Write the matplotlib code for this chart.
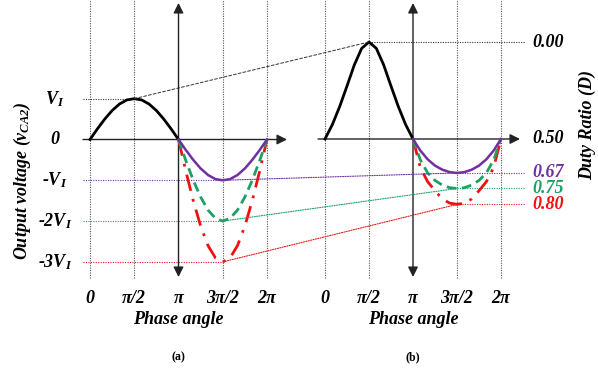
import numpy as np
import matplotlib
matplotlib.use("Agg")
import matplotlib.pyplot as plt
from matplotlib.patches import ConnectionPatch

# ---------------- data ----------------
phase_deg_pos = [0, 15, 30, 45, 60, 75, 90, 105, 120, 135, 150, 165, 180]
phase_deg_neg = [180, 195, 210, 225, 240, 255, 270, 285, 300, 315, 330, 345, 360]

# (a) output voltage in units of V_I
left_black = [0, 0.26, 0.50, 0.71, 0.87, 0.97, 1.00, 0.97, 0.87, 0.71, 0.50, 0.26, 0]
left_purple = [0, -0.26, -0.50, -0.71, -0.87, -0.97, -1.00, -0.97, -0.87, -0.71, -0.50, -0.26, 0]
left_green = [0, -0.52, -1.00, -1.41, -1.73, -1.93, -2.00, -1.93, -1.73, -1.41, -1.00, -0.52, 0]
left_red = [0, -0.78, -1.50, -2.12, -2.60, -2.90, -3.00, -2.90, -2.60, -2.12, -1.50, -0.78, 0]

# (b) duty ratio D
right_black = [0.500, 0.426, 0.333, 0.227, 0.118, 0.033, 0.000, 0.033, 0.118, 0.227, 0.333, 0.426, 0.500]
right_purple = [0.500, 0.557, 0.600, 0.631, 0.651, 0.663, 0.667, 0.663, 0.651, 0.631, 0.600, 0.557, 0.500]
right_green = [0.500, 0.603, 0.667, 0.707, 0.732, 0.746, 0.750, 0.746, 0.732, 0.707, 0.667, 0.603, 0.500]
right_red = [0.500, 0.640, 0.714, 0.757, 0.783, 0.796, 0.800, 0.796, 0.783, 0.757, 0.714, 0.640, 0.500]

x_tick_deg = [0, 90, 180, 270, 360]
x_tick_labels = ["0", "π/2", "π", "3π/2", "2π"]
v_ticks = [1, 0, -1, -2, -3]
v_tick_labels = [r"$V_I$", "0", r"-$V_I$", r"-2$V_I$", r"-3$V_I$"]
d_ticks = [0.00, 0.50, 0.667, 0.75, 0.80]
d_tick_labels = ["0.00", "0.50", "0.67", "0.75", "0.80"]

# ---------------- style ----------------
plt.rcParams["mathtext.fontset"] = "custom"
plt.rcParams["mathtext.it"] = "Liberation Serif:italic:bold"
plt.rcParams["mathtext.rm"] = "Liberation Serif:italic:bold"
plt.rcParams["mathtext.bf"] = "Liberation Serif:italic:bold"
FONT = dict(family="Liberation Serif", weight="bold", style="italic", size=13)

PURPLE = "#7030A0"
GREEN = "#1EA064"
RED = "#F01010"
colors = [PURPLE, GREEN, RED]

W, H = 598, 369
fig = plt.figure(figsize=(W / 100, H / 100), dpi=100)
ax1 = fig.add_axes([0, 0, 0.5, 1])
ax2 = fig.add_axes([0.5, 0, 0.5, 1])
for a in (ax1, ax2):
    a.set_axis_off()

rad = np.deg2rad

# left axes scaling (pixel layout)
ax1.set_xlim(-3.195, 7.419)
ax1.set_ylim(-5.625, 3.419)

# right axes: piecewise-linear display scale for D
D_anchor = [-1.0, 0.0, 0.5, 0.667, 0.75, 0.80, 2.0]
S_anchor = [-1.0, 0.0, 0.5, 0.675, 0.755, 0.837, 2.037]
fwd = lambda d: np.interp(d, D_anchor, S_anchor)
inv = lambda s: np.interp(s, S_anchor, D_anchor)
ax2.set_yscale("function", functions=(fwd, inv))
ax2.set_xlim(-0.928, 9.746)
ax2.set_ylim(inv(1.6856), inv(-0.2165))

xt1 = ax1.get_xaxis_transform()
xt2 = ax2.get_xaxis_transform()
yt1 = ax1.get_yaxis_transform()
yt2 = ax2.get_yaxis_transform()

grid_kw = dict(color="#555555", lw=0.8, ls=(0, (1, 1.2)), zorder=1)
for a, xt in ((ax1, xt1), (ax2, xt2)):
    for d in x_tick_deg:
        if d == 180:
            continue
        a.plot([rad(d), rad(d)], [0.2466, 1.0], transform=xt, **grid_kw)
    # vertical double arrow at pi
    a.annotate("", xy=(np.pi, 0.9919), xytext=(np.pi, 0.2493), xycoords=xt, textcoords=xt,
               arrowprops=dict(arrowstyle="<|-|>,head_length=0.6,head_width=0.3",
                               mutation_scale=10, lw=1.0, color="#222222",
                               shrinkA=0, shrinkB=0), zorder=3)
    # x tick labels
    for d, lab in zip(x_tick_deg, x_tick_labels):
        a.text(rad(d), 0.1924, lab, transform=xt, ha="center", va="center", **FONT)
    a.text(np.pi, 0.133, "Phase angle", transform=xt, ha="center", va="center", **FONT)

ax1.text(np.pi, 0.0325, "(a)", transform=xt1, ha="center", va="center",
         family="Liberation Serif", weight="bold", size=8.5)
ax2.text(np.pi, 0.0325, "(b)", transform=xt2, ha="center", va="center",
         family="Liberation Serif", weight="bold", size=8.5)

# horizontal axes with arrows
ax1.annotate("", xy=(6.993, 0), xytext=(-0.249, 0),
             arrowprops=dict(arrowstyle="-|>,head_length=0.6,head_width=0.3",
                             mutation_scale=10, lw=1.0, color="#222222",
                             shrinkA=0, shrinkB=0), zorder=3)
ax2.annotate("", xy=(6.962, 0.5), xytext=(-0.25, 0.5),
             arrowprops=dict(arrowstyle="-|>,head_length=0.6,head_width=0.3",
                             mutation_scale=10, lw=1.0, color="#222222",
                             shrinkA=0, shrinkB=0), zorder=3)

# reference lines
ref_kw = dict(lw=0.8, ls=(0, (1, 1.2)), zorder=1)
ax1.plot([-0.249, np.pi / 2], [1, 1], color="#333333", **ref_kw)
ax2.plot([np.pi / 2, 7.14], [0, 0], color="#333333", **ref_kw)
con = ConnectionPatch(xyA=(np.pi / 2, 1), coordsA=ax1.transData,
                      xyB=(np.pi / 2, 0), coordsB=ax2.transData,
                      color="#333333", lw=0.7, ls=(0, (3, 2)), zorder=1)
fig.add_artist(con)

for k, c, dval in zip([-1, -2, -3], colors, d_ticks[2:]):
    ax1.plot([-0.249, 3 * np.pi / 2], [k, k], color=c, **ref_kw)
    ax2.plot([3 * np.pi / 2, 7.105], [dval, dval], color=c, **ref_kw)
    cp = ConnectionPatch(xyA=(3 * np.pi / 2, k), coordsA=ax1.transData,
                         xyB=(3 * np.pi / 2, dval), coordsB=ax2.transData,
                         color=c, lw=0.8, ls=(0, (1, 1.2)), zorder=1)
    fig.add_artist(cp)

# curves
px = rad(np.array(phase_deg_pos))
nx = rad(np.array(phase_deg_neg))
curve_kw = dict(solid_joinstyle="round", dash_joinstyle="round", zorder=4)
for a, blk, pu, gr, rd in ((ax1, left_black, left_purple, left_green, left_red),
                           (ax2, right_black, right_purple, right_green, right_red)):
    a.plot(px, blk, color="black", lw=2.0, **curve_kw)
    a.plot(nx, rd, color=RED, lw=2.0, ls=(0, (6, 3, 1, 3)), **curve_kw)
    a.plot(nx, gr, color=GREEN, lw=2.0, ls=(0, (3.5, 2)), **curve_kw)
    a.plot(nx, pu, color=PURPLE, lw=1.8, **curve_kw)

# y tick labels
for v, lab in zip(v_ticks, v_tick_labels):
    ax1.text(0.184, v, lab, transform=yt1, ha="center", va="center", **FONT)
d_colors = ["black", "black", PURPLE, GREEN, RED]
for d, lab, c in zip(d_ticks, d_tick_labels, d_colors):
    ax2.text(0.779, d, lab, transform=yt2, ha="left", va="center", color=c, **FONT)

# axis titles
fig.text(22 / W, 1 - 181 / H, r"Output voltage ($v_{CA2}$)", rotation=90,
         ha="center", va="center", **FONT)
fig.text(587 / W, 1 - 125 / H, "Duty Ratio (D)", rotation=90,
         ha="center", va="center", **FONT)

fig.savefig("out.png", dpi=100)
